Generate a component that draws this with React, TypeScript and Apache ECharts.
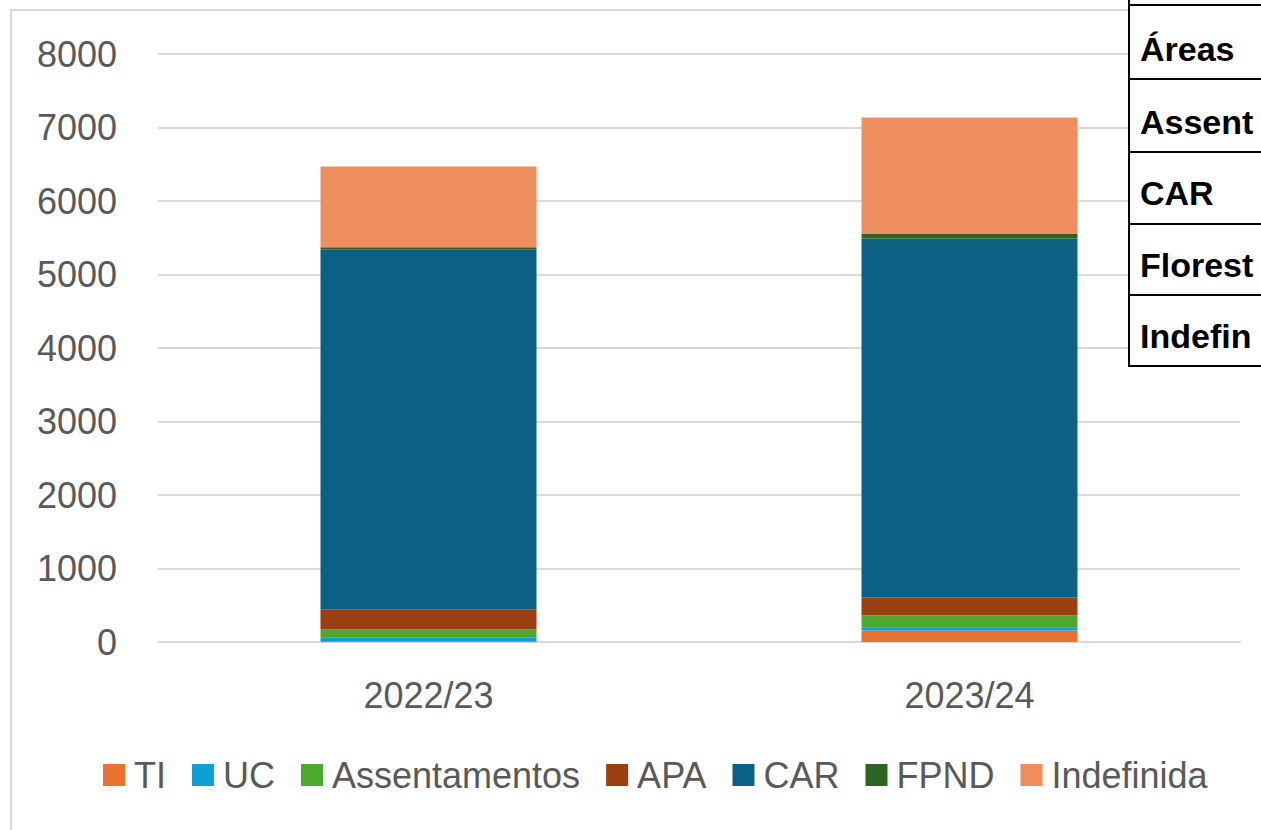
import React, { useEffect, useRef } from "react";
import * as echarts from "echarts";

const categories = ["2022/23", "2023/24"];
const TI = [5, 155];
const UC = [60, 45];
const Assentamentos = [110, 165];
const APA = [270, 240];
const CAR = [4900, 4885];
const FPND = [25, 68];
const Indefinida = [1100, 1578];

const seriesNames = ["TI", "UC", "Assentamentos", "APA", "CAR", "FPND", "Indefinida"];
const seriesData = [TI, UC, Assentamentos, APA, CAR, FPND, Indefinida];
const colors = ["#E97132", "#0F9ED5", "#4EA72E", "#9A3F12", "#0B6083", "#2D6520", "#EE8E5E"];

const tableRows = [
  "Áreas de Proteção Ambiental",
  "Assentamentos",
  "CAR",
  "Florestas Públicas Não Destinadas",
  "Indefinida",
];
const tableLinesY = [5, 79, 152, 224, 295, 366];
const tableTextY = [49, 122, 193, 265, 336];

const FONT = '"Liberation Sans", Arial, sans-serif';

export default function App() {
  const ref = useRef<HTMLDivElement>(null);
  useEffect(() => {
    if (!ref.current) return;
    const chart = echarts.init(ref.current, null, { renderer: "svg" });
    const graphics: any[] = [
      {
        type: "rect",
        z: -10,
        silent: true,
        shape: { x: 11, y: 10, width: 1400, height: 1000 },
        style: { fill: "none", stroke: "#d9d9d9", lineWidth: 2 },
      },
      {
        type: "rect",
        z: 100,
        silent: true,
        shape: { x: 1129, y: -5, width: 200, height: 372 },
        style: { fill: "#ffffff" },
      },
      {
        type: "line",
        z: 101,
        silent: true,
        shape: { x1: 1129, y1: 0, x2: 1129, y2: 367 },
        style: { stroke: "#000000", lineWidth: 2 },
      },
      ...tableLinesY.map((y) => ({
        type: "line",
        z: 101,
        silent: true,
        shape: { x1: 1128, y1: y, x2: 1300, y2: y },
        style: { stroke: "#000000", lineWidth: 2 },
      })),
      ...tableRows.map((t, i) => ({
        type: "text",
        z: 102,
        silent: true,
        x: 1140,
        y: tableTextY[i],
        style: {
          text: t,
          fill: "#000000",
          font: `bold 34px ${FONT}`,
          verticalAlign: "middle",
          align: "left",
          width: 120,
          overflow: "truncate",
          ellipsis: "",
        },
      })),
    ];
    chart.setOption({
      animation: false,
      color: colors,
      textStyle: { fontFamily: FONT },
      grid: { left: 158, right: 21, top: 54, bottom: 188, containLabel: false },
      legend: {
        data: seriesNames,
        left: 98,
        top: 752,
        itemWidth: 22,
        itemHeight: 22,
        itemGap: 26,
        icon: "rect",
        textStyle: { fontSize: 36, color: "#595959", fontFamily: FONT, padding: [0, 0, 0, 4] },
      },
      xAxis: {
        type: "category",
        data: categories,
        axisLine: { lineStyle: { color: "#d9d9d9", width: 2 } },
        axisTick: { show: false },
        axisLabel: { fontSize: 36, color: "#595959", margin: 35, fontFamily: FONT },
      },
      yAxis: {
        type: "value",
        min: 0,
        max: 8000,
        interval: 1000,
        axisLine: { show: false },
        axisTick: { show: false },
        splitLine: { lineStyle: { color: "#d9d9d9", width: 2 } },
        axisLabel: {
          fontSize: 36,
          color: "#595959",
          margin: 41,
          fontFamily: FONT,
          formatter: (v: number) => String(v),
        },
      },
      series: seriesNames.map((name, i) => ({
        name,
        type: "bar",
        stack: "total",
        barWidth: 216,
        data: seriesData[i],
        itemStyle: { color: colors[i] },
      })),
      graphic: graphics,
    });
    return () => chart.dispose();
  }, []);
  return (
    <div
      ref={ref}
      style={{ position: "fixed", left: 0, top: 0, width: 1261, height: 830, background: "#ffffff" }}
    />
  );
}
